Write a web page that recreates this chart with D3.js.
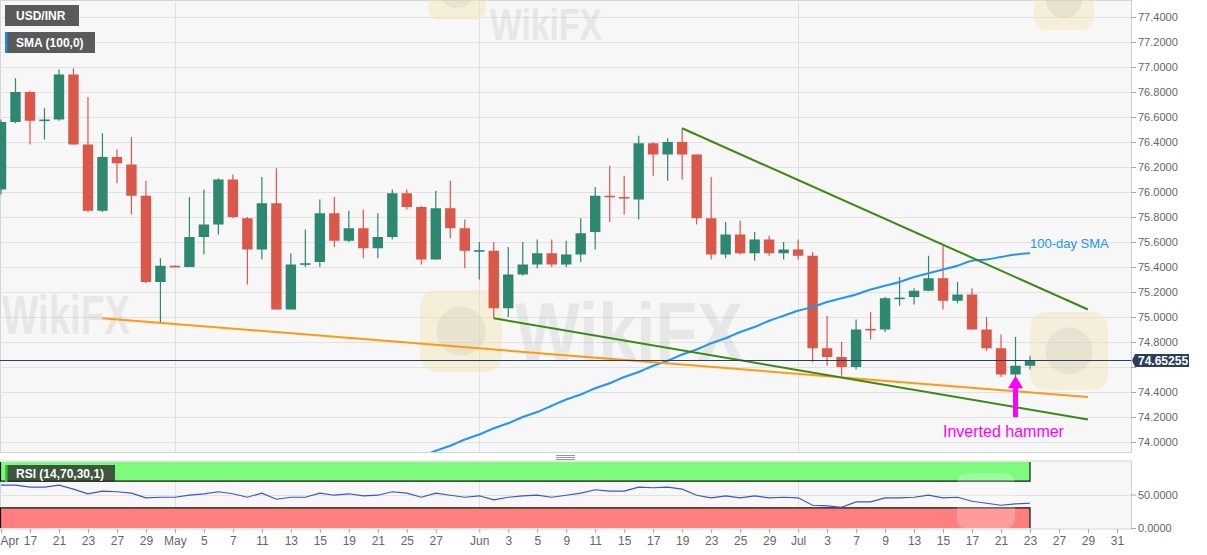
<!DOCTYPE html>
<html>
<head>
<meta charset="utf-8">
<script src="https://cdn.jsdelivr.net/npm/d3@7"></script>
<style>
body { margin: 0; background: #fff; }
svg { display: block; font-family: "Liberation Sans", Arial, sans-serif; }
</style>
</head>
<body>
<svg id="chart" width="1207" height="555"></svg>
<script>
// trading days (2020), Apr 15 .. Jul 31
var days = ("04-15 04-16 04-17 04-20 04-21 04-22 04-23 04-24 04-27 04-28 04-29 04-30 " +
  "05-01 05-04 05-05 05-06 05-07 05-08 05-11 05-12 05-13 05-14 05-15 05-18 05-19 05-20 05-21 05-22 " +
  "05-25 05-26 05-27 05-28 05-29 06-01 06-02 06-03 06-04 06-05 06-08 06-09 06-10 06-11 06-12 " +
  "06-15 06-16 06-17 06-18 06-19 06-22 06-23 06-24 06-25 06-26 06-29 06-30 07-01 07-02 07-03 " +
  "07-06 07-07 07-08 07-09 07-10 07-13 07-14 07-15 07-16 07-17 07-20 07-21 07-22 07-23 " +
  "07-24 07-27 07-28 07-29 07-30 07-31").split(" ");

var open = [76.02, 76.56, 76.80, 76.57, 76.58, 76.94, 76.38, 75.85, 76.28, 76.22,
  75.97, 75.28, 75.41, 75.40, 75.64, 75.74, 76.10, 75.79, 75.54, 75.91,
  75.06, 75.42, 75.44, 75.83, 75.61, 75.71, 75.55, 75.64, 75.99, 75.88,
  75.46, 75.87, 75.71, 75.525, 75.53, 75.07, 75.34, 75.42, 75.51, 75.42,
  75.50, 75.68, 75.97, 75.96, 75.94, 76.39, 76.30, 76.40, 76.30, 75.79,
  75.50, 75.66, 75.51, 75.62, 75.51, 75.54, 75.49, 74.75, 74.68, 74.60,
  74.905, 74.90, 75.15, 75.16, 75.21, 75.31, 75.13, 75.18, 74.90, 74.75,
  74.54, 74.61];
var high = [76.58, 76.91, 76.81, 76.67, 76.98, 76.99, 76.76, 76.47, 76.34, 76.44,
  76.09, 75.47, 75.415, 75.96, 76.02, 76.11, 76.14, 75.80, 76.12, 76.19,
  75.51, 75.70, 75.94, 75.96, 75.85, 75.86, 75.83, 76.02, 76.02, 75.89,
  76.01, 76.09, 75.78, 75.60, 75.60, 75.56, 75.60, 75.62, 75.62, 75.61,
  75.79, 76.04, 76.21, 76.13, 76.45, 76.40, 76.43, 76.51, 76.30, 76.12,
  75.76, 75.77, 75.68, 75.65, 75.60, 75.62, 75.52, 75.01, 74.80, 74.98,
  75.04, 75.16, 75.32, 75.23, 75.49, 75.58, 75.28, 75.23, 75.00, 74.86,
  74.84, 74.69];
var low = [75.98, 76.55, 76.38, 76.42, 76.57, 76.38, 75.84, 75.84, 76.07, 75.82,
  75.27, 74.95, 75.40, 75.40, 75.50, 75.66, 75.79, 75.26, 75.46, 75.06,
  75.06, 75.40, 75.40, 75.56, 75.60, 75.47, 75.47, 75.62, 75.86, 75.42,
  75.46, 75.63, 75.39, 75.30, 74.99, 75.00, 75.33, 75.39, 75.40, 75.40,
  75.44, 75.54, 75.76, 75.82, 75.78, 76.13, 76.09, 76.10, 75.74, 75.46,
  75.47, 75.50, 75.45, 75.49, 75.46, 75.46, 74.64, 74.61, 74.53, 74.58,
  74.82, 74.88, 75.09, 75.10, 75.21, 75.06, 75.11, 74.90, 74.73, 74.52,
  74.51, 74.58];
var close = [76.56, 76.80, 76.57, 76.58, 76.94, 76.38, 75.85, 76.28, 76.23, 75.97,
  75.28, 75.41, 75.40, 75.64, 75.74, 76.10, 75.80, 75.54, 75.91, 75.06,
  75.42, 75.43, 75.83, 75.61, 75.71, 75.55, 75.64, 75.99, 75.88, 75.46,
  75.87, 75.71, 75.53, 75.535, 75.07, 75.34, 75.42, 75.51, 75.42, 75.50,
  75.67, 75.97, 75.96, 75.95, 76.39, 76.30, 76.40, 76.30, 75.79, 75.50,
  75.66, 75.51, 75.62, 75.51, 75.54, 75.49, 74.75, 74.68, 74.60, 74.90,
  74.895, 75.15, 75.155, 75.21, 75.31, 75.13, 75.18, 74.90, 74.75, 74.54,
  74.61, 74.65255];

// 100-day SMA, from May 26 to Jul 23
var smaStart = "05-26";
var sma = [73.88, 73.93, 73.97, 74.02, 74.06, 74.11, 74.15, 74.20, 74.24, 74.29,
  74.34, 74.38, 74.43, 74.47, 74.52, 74.56, 74.61, 74.65, 74.70, 74.74,
  74.79, 74.83, 74.88, 74.92, 74.97, 75.01, 75.05, 75.08, 75.12, 75.15,
  75.18, 75.22, 75.25, 75.28, 75.32, 75.35, 75.38, 75.41, 75.45, 75.46,
  75.48, 75.50, 75.51];

// RSI (14)
var rsi = [64, 64, 61, 61, 64, 58, 51, 55, 54, 52,
  45, 46, 46, 49, 51, 54, 51, 46, 52, 43,
  46, 46, 52, 49, 51, 48, 49, 54, 52, 46,
  52, 49, 46, 48, 42, 46, 48, 49, 46, 49,
  52, 57, 55, 55, 61, 60, 61, 58, 49, 45,
  48, 45, 48, 45, 46, 45, 34, 33, 31, 39,
  39, 45, 45, 46, 49, 45, 46, 40, 37, 34,
  36, 37];

// drawn trend lines [day, price]
var orangeLine = [["04-24", 74.99], ["07-29", 74.36]];
var upperGreen = [["06-19", 76.51], ["07-29", 75.06]];
var lowerGreen = [["06-02", 74.99], ["07-29", 74.18]];

var tickDays = ["04-15", "04-17", "04-21", "04-23", "04-27", "04-29", "05-01", "05-05", "05-07", "05-11",
  "05-13", "05-15", "05-19", "05-21", "05-25", "05-27", "06-01", "06-03", "06-05", "06-09",
  "06-11", "06-15", "06-17", "06-19", "06-23", "06-25", "06-29", "07-01", "07-03", "07-07",
  "07-09", "07-13", "07-15", "07-17", "07-21", "07-23", "07-27", "07-29", "07-31"];
var tickLabels = ["Apr", "17", "21", "23", "27", "29", "May", "5", "7", "11",
  "13", "15", "19", "21", "25", "27", "Jun", "3", "5", "9",
  "11", "15", "17", "19", "23", "25", "29", "Jul", "3", "7",
  "9", "13", "15", "17", "21", "23", "27", "29", "31"];
var monthStarts = ["05-01", "06-01", "07-01"];
var priceTicks = [74.0, 74.2, 74.4, 74.6, 74.8, 75.0, 75.2, 75.4, 75.6, 75.8, 76.0, 76.2, 76.4, 76.6, 76.8, 77.0, 77.2, 77.4];
var rsiTicks = [0, 50];
var lastPrice = 74.65255;

var up = "#2e8770", down = "#d9584a";
var W = 1131, mainBottom = 452, rsiTop = 461, rsiBottom = 529;

var svg = d3.select("#chart");
var idx = function(d) { return days.indexOf(d); };

var x = d3.scaleLinear().domain([0, 71]).range([1, 1030]);
var y = d3.scaleLinear().domain([74, 77.4]).range([442, 17]);
var yR = d3.scaleLinear().domain([0, 100]).range([528, 461]);

var defs = svg.append("defs");
defs.append("clipPath").attr("id", "clipMain")
  .append("rect").attr("x", 0).attr("y", 0).attr("width", W).attr("height", mainBottom);

// panels
svg.append("rect").attr("x", 0.5).attr("y", 0.5).attr("width", W).attr("height", mainBottom)
  .attr("fill", "#f7f7f7").attr("stroke", "#d6d6d6");
svg.append("rect").attr("x", 0.5).attr("y", rsiTop).attr("width", W).attr("height", rsiBottom - rsiTop)
  .attr("fill", "#f7f7f7").attr("stroke", "#d6d6d6");

// grid
svg.append("g").selectAll("line").data(priceTicks).enter().append("line")
  .attr("x1", 0).attr("x2", W)
  .attr("y1", function(d) { return Math.round(y(d)) + 0.5; })
  .attr("y2", function(d) { return Math.round(y(d)) + 0.5; })
  .attr("stroke", "#e2e2e2");
svg.append("g").selectAll("line").data(monthStarts).enter().append("line")
  .attr("x1", function(d) { return Math.round(x(idx(d))) + 0.5; })
  .attr("x2", function(d) { return Math.round(x(idx(d))) + 0.5; })
  .attr("y1", 0).attr("y2", mainBottom)
  .attr("stroke", "#e0e0e0");

// watermarks
var wm = svg.append("g");
function logo(x0, y0, s, fill, op) {
  wm.append("rect").attr("x", x0).attr("y", y0).attr("width", s).attr("height", s).attr("rx", s * 0.2)
    .attr("fill", fill).attr("opacity", op);
  wm.append("circle").attr("cx", x0 + s / 2).attr("cy", y0 + s / 2).attr("r", s * 0.3)
    .attr("fill", "#9a9a9a").attr("opacity", 0.14);
}
function word(x0, y0, size, len) {
  wm.append("text").attr("x", x0).attr("y", y0).attr("font-size", size).attr("font-weight", "bold")
    .attr("fill", "#9a9a9a").attr("opacity", 0.17)
    .attr("textLength", len).attr("lengthAdjust", "spacingAndGlyphs").text("WikiFX");
}
logo(420, 290, 82, "#f1e2b2", 0.45); word(515, 360, 82, 228);
word(2, 334, 56, 128);
logo(428, -38, 58, "#f1e2b2", 0.45); word(490, 40, 44, 112);
logo(1034, -30, 60, "#f1e2b2", 0.45);
logo(1030, 312, 78, "#f1e2b2", 0.4);

var main = svg.append("g").attr("clip-path", "url(#clipMain)");

// candles
var candles = close.map(function(c, i) {
  return { i: i, o: open[i], h: high[i], l: low[i], c: c };
});
main.selectAll(".wick").data(candles).enter().append("line")
  .attr("x1", function(d) { return x(d.i); })
  .attr("x2", function(d) { return x(d.i); })
  .attr("y1", function(d) { return y(d.h); })
  .attr("y2", function(d) { return y(d.l); })
  .attr("stroke", function(d) { return d.c >= d.o ? up : down; })
  .attr("stroke-width", 1.2);
main.selectAll(".body").data(candles).enter().append("rect")
  .attr("x", function(d) { return x(d.i) - 5.2; })
  .attr("width", 10.4)
  .attr("y", function(d) { return y(Math.max(d.o, d.c)); })
  .attr("height", function(d) { return Math.max(1.6, Math.abs(y(d.o) - y(d.c))); })
  .attr("fill", function(d) { return d.c >= d.o ? up : down; });

// SMA
var smaLine = d3.line()
  .x(function(d, k) { return x(idx(smaStart) + k); })
  .y(function(d) { return y(d); })
  .curve(d3.curveMonotoneX);
main.append("path").datum(sma).attr("d", smaLine)
  .attr("fill", "none").attr("stroke", "#2196f3").attr("stroke-width", 2);

// trend lines
var tl = d3.line().x(function(d) { return x(idx(d[0])); }).y(function(d) { return y(d[1]); });
main.append("path").datum(orangeLine).attr("d", tl).attr("stroke", "#ff9a10").attr("stroke-width", 2).attr("fill", "none");
main.append("path").datum(upperGreen).attr("d", tl).attr("stroke", "#3a8a12").attr("stroke-width", 2).attr("fill", "none");
main.append("path").datum(lowerGreen).attr("d", tl).attr("stroke", "#3a8a12").attr("stroke-width", 2).attr("fill", "none");

// last price line
main.append("line").attr("x1", 0).attr("x2", W)
  .attr("y1", Math.round(y(lastPrice)) + 0.5).attr("y2", Math.round(y(lastPrice)) + 0.5)
  .attr("stroke", "#2b3f5c").attr("stroke-width", 1);

// annotations
svg.append("text").attr("x", x(idx("07-23"))).attr("y", y(75.55))
  .attr("font-size", 13).attr("fill", "#2196f3").text("100-day SMA");
var ax = x(idx("07-22"));
svg.append("rect").attr("x", ax - 2.5).attr("y", y(74.47)).attr("width", 5).attr("height", y(74.2) - y(74.47))
  .attr("fill", "#ff00ff");
svg.append("path")
  .attr("d", "M" + ax + "," + y(74.53) + "L" + (ax + 7.5) + "," + y(74.43) + "L" + (ax - 7.5) + "," + y(74.43) + "Z")
  .attr("fill", "#ff00ff");
svg.append("text").attr("x", 943).attr("y", 437).attr("font-size", 16).attr("fill", "#ff00ff").text("Inverted hammer");

// y axis
var yAxis = svg.append("g").attr("transform", "translate(" + W + ",0)")
  .call(d3.axisRight(y).tickValues(priceTicks).tickFormat(d3.format(".4f")).tickSize(5).tickPadding(2));
yAxis.select(".domain").attr("d", "M0.5,0V" + mainBottom).attr("stroke", "#cfcfcf");
yAxis.selectAll(".tick line").attr("stroke", "#aaa");
yAxis.selectAll("text").attr("fill", "#666").attr("font-size", 11).attr("font-family", "Liberation Sans, Arial, sans-serif");
// the current price label covers this one
yAxis.selectAll(".tick").filter(function(d) { return Math.abs(d - 74.6) < 1e-6; }).select("text").attr("opacity", 0);

// last price label
var ly = y(lastPrice);
svg.append("path")
  .attr("d", "M" + (W + 1) + "," + ly + "L" + (W + 4) + "," + (ly - 6.5) + "H" + (W + 58) + "V" + (ly + 6.5) + "H" + (W + 4) + "Z")
  .attr("fill", "#2b3f5c");
svg.append("text").attr("x", W + 7).attr("y", ly + 4.5).attr("font-size", 12).attr("font-weight", "bold")
  .attr("fill", "#fff").text(d3.format(".5f")(lastPrice));

// panel splitter
svg.append("g").selectAll("line").data([455.5, 457.5, 459.5]).enter().append("line")
  .attr("x1", 556).attr("x2", 575).attr("y1", function(d) { return d; }).attr("y2", function(d) { return d; })
  .attr("stroke", "#999");

// RSI panel
var rsiG = svg.append("g");
rsiG.append("line").attr("x1", 0).attr("x2", W).attr("y1", Math.round(yR(50)) + 0.5).attr("y2", Math.round(yR(50)) + 0.5)
  .attr("stroke", "#e2e2e2");
rsiG.selectAll(".mgrid").data(monthStarts).enter().append("line")
  .attr("x1", function(d) { return Math.round(x(idx(d))) + 0.5; })
  .attr("x2", function(d) { return Math.round(x(idx(d))) + 0.5; })
  .attr("y1", rsiTop).attr("y2", rsiBottom).attr("stroke", "#e0e0e0");
var bandR = x(idx("07-23"));
rsiG.append("rect").attr("x", 0).attr("y", yR(100) + 1).attr("width", bandR).attr("height", yR(70) - yR(100) - 1)
  .attr("fill", "#7dfb7d");
rsiG.append("rect").attr("x", 0).attr("y", yR(30)).attr("width", bandR).attr("height", yR(0) - yR(30))
  .attr("fill", "#ff7f7f");
rsiG.append("path")
  .attr("d", "M0.5," + (yR(100) + 1) + "V" + yR(70) + "H" + bandR + "V" + (yR(100) + 1) +
    "M0.5," + yR(0) + "V" + yR(30) + "H" + bandR + "V" + yR(0))
  .attr("fill", "none").attr("stroke", "#111").attr("stroke-width", 1.2);
// watermark over rsi
rsiG.append("rect").attr("x", 957).attr("y", 473).attr("width", 58).attr("height", 56).attr("rx", 10)
  .attr("fill", "#fff").attr("opacity", 0.22);

var rsiLine = d3.line().x(function(d, k) { return x(k); }).y(function(d) { return yR(d); });
rsiG.append("path").datum(rsi).attr("d", rsiLine)
  .attr("fill", "none").attr("stroke", "#3f51d6").attr("stroke-width", 1.1);

var rAxis = svg.append("g").attr("transform", "translate(" + W + ",0)")
  .call(d3.axisRight(yR).tickValues(rsiTicks).tickFormat(d3.format(".4f")).tickSize(5).tickPadding(2));
rAxis.select(".domain").attr("d", "M0.5," + rsiTop + "V" + rsiBottom).attr("stroke", "#cfcfcf");
rAxis.selectAll(".tick line").attr("stroke", "#aaa");
rAxis.selectAll("text").attr("fill", "#666").attr("font-size", 11).attr("font-family", "Liberation Sans, Arial, sans-serif");

// x axis
var xAxis = svg.append("g").attr("transform", "translate(0," + rsiBottom + ")")
  .call(d3.axisBottom(x).tickValues(tickDays.map(idx))
    .tickFormat(function(d, k) { return tickLabels[k]; }).tickSize(4).tickPadding(3));
xAxis.select(".domain").remove();
xAxis.selectAll(".tick line").attr("stroke", "#aaa");
xAxis.selectAll("text").attr("fill", "#666").attr("font-size", 12).attr("font-family", "Liberation Sans, Arial, sans-serif");
xAxis.selectAll(".tick").filter(function(d) { return d === 0; }).select("text")
  .attr("text-anchor", "start").attr("x", -1);

// legend boxes
function tag(x0, y0, w, h, bar, fill, label) {
  svg.append("rect").attr("x", x0).attr("y", y0).attr("width", w).attr("height", h).attr("fill", fill);
  if (bar) svg.append("rect").attr("x", x0).attr("y", y0).attr("width", 2.5).attr("height", h).attr("fill", bar);
  svg.append("text").attr("x", x0 + 11).attr("y", y0 + h / 2 + 4.3).attr("font-size", 12).attr("font-weight", "bold")
    .attr("fill", "#fff").text(label);
}
tag(5, 5, 74, 21, null, "#5a5a5a", "USD/INR");
tag(5, 32, 90, 21, "#1e88e5", "#5a5a5a", "SMA (100,0)");
tag(5, 465, 110, 17, "#33cc33", "rgba(45,45,45,0.8)", "RSI (14,70,30,1)");
</script>
</body>
</html>
